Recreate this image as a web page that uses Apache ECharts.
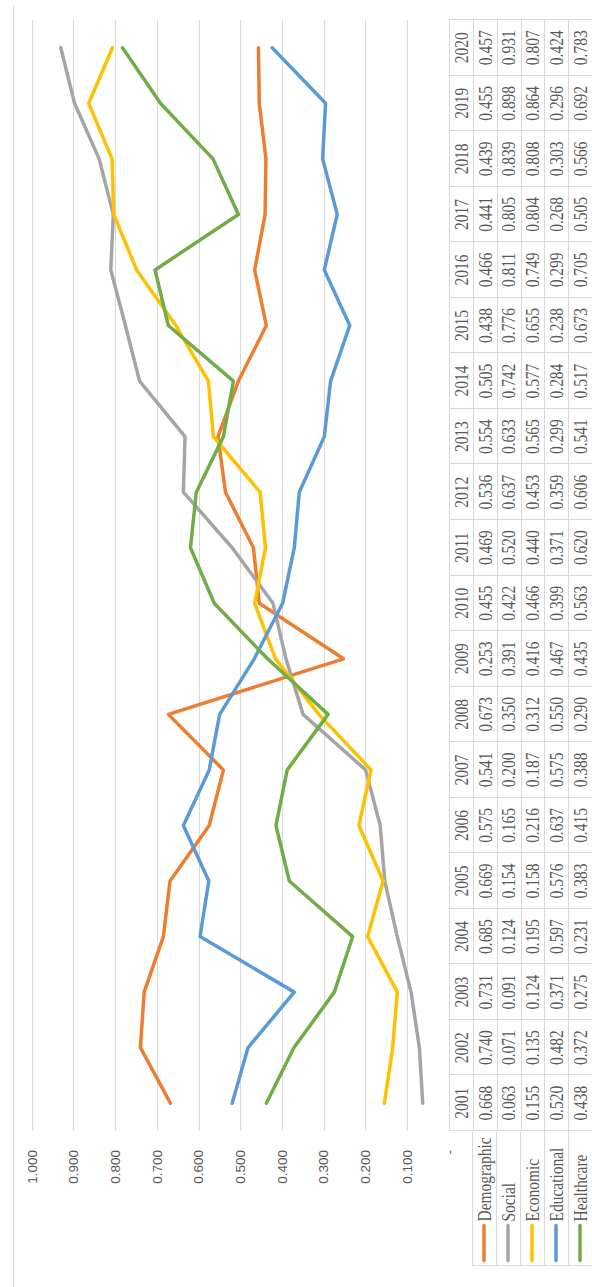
<!DOCTYPE html>
<html>
<head>
<meta charset="utf-8">
<script src="https://cdn.jsdelivr.net/npm/echarts@6/dist/echarts.min.js"></script>
<style>
html, body { margin: 0; padding: 0; width: 592px; height: 1287px; overflow: hidden; background: #fff; }
#chart { position: absolute; left: 0; top: 0; width: 1287px; height: 592px;
  transform-origin: 0 0; transform: translateY(1287px) rotate(-90deg); }
</style>
</head>
<body>
<div id="chart"></div>
<script>
// ---- data ----
const years = ['2001','2002','2003','2004','2005','2006','2007','2008','2009','2010',
               '2011','2012','2013','2014','2015','2016','2017','2018','2019','2020'];
const seriesNames = ['Demographic','Social','Economic','Educational','Healthcare'];
const demographic = [0.668,0.740,0.731,0.685,0.669,0.575,0.541,0.673,0.253,0.455,
                     0.469,0.536,0.554,0.505,0.438,0.466,0.441,0.439,0.455,0.457];
const social      = [0.063,0.071,0.091,0.124,0.154,0.165,0.200,0.350,0.391,0.422,
                     0.520,0.637,0.633,0.742,0.776,0.811,0.805,0.839,0.898,0.931];
const economic    = [0.155,0.135,0.124,0.195,0.158,0.216,0.187,0.312,0.416,0.466,
                     0.440,0.453,0.565,0.577,0.655,0.749,0.804,0.808,0.864,0.807];
const educational = [0.520,0.482,0.371,0.597,0.576,0.637,0.575,0.550,0.467,0.399,
                     0.371,0.359,0.299,0.284,0.238,0.299,0.268,0.303,0.296,0.424];
const healthcare  = [0.438,0.372,0.275,0.231,0.383,0.415,0.388,0.290,0.435,0.563,
                     0.620,0.606,0.541,0.517,0.673,0.705,0.505,0.566,0.692,0.783];
const valueMin = 0, valueMax = 1, valueStep = 0.1;

// ---- styles ----
const allSeries = [demographic, social, economic, educational, healthcare];
const colors = ['#ED7D31', '#A5A5A5', '#FFC000', '#5B9BD5', '#70AD47'];
const gridColor = '#D9D9D9';
const textColor = '#595959';
const tableFont = 'Liberation Serif';
const tableFontSize = 18;
const tableScaleX = 0.86;

// table rows: year header + each series
const tableRows = ['Year'].concat(seriesNames);
const tableData = [];
const tableTexts = [];
tableRows.forEach(function (row, r) {
  years.forEach(function (y, c) {
    tableData.push([c, r]);
    tableTexts.push(r === 0 ? y : allSeries[r - 1][c].toFixed(3));
  });
});
const headerData = seriesNames.map(function (n, r) { return [0, r]; });

function crisp(v) { return Math.round(v) + 0.5; }

function tableCell(params, api) {
  const c = api.value(0), r = api.value(1);
  const p = api.coord([c, r]);
  const s = api.size([1, 1]);
  const x0 = crisp(p[0] - s[0] / 2), y0 = crisp(p[1] - s[1] / 2);
  const x1 = crisp(p[0] + s[0] / 2), y1 = crisp(p[1] + s[1] / 2);
  return {
    type: 'group',
    children: [
      { type: 'rect', shape: { x: x0, y: y0, width: x1 - x0, height: y1 - y0 },
        style: { fill: 'none', stroke: gridColor, lineWidth: 1 } },
      { type: 'text', x: p[0], y: p[1] + 1, scaleX: tableScaleX,
        style: { text: tableTexts[params.dataIndex], fill: textColor,
                 fontFamily: tableFont, fontSize: tableFontSize,
                 align: 'center', verticalAlign: 'middle' } }
    ]
  };
}

function headerCell(params, api) {
  const r = api.value(1);
  const p = api.coord([0, r]);
  const s = api.size([1, 1]);
  const x0 = crisp(p[0] - s[0] / 2), y0 = crisp(p[1] - s[1] / 2);
  const x1 = crisp(p[0] + s[0] / 2), y1 = crisp(p[1] + s[1] / 2);
  return {
    type: 'group',
    children: [
      { type: 'rect', shape: { x: x0, y: y0, width: x1 - x0, height: y1 - y0 },
        style: { fill: 'none', stroke: gridColor, lineWidth: 1 } },
      { type: 'line', shape: { x1: x0 + 5, y1: p[1], x2: x0 + 40, y2: p[1] },
        style: { stroke: colors[r], lineWidth: 3.5, lineCap: 'round' } },
      { type: 'text', x: x0 + 44, y: p[1] + 1, scaleX: tableScaleX,
        style: { text: seriesNames[r], fill: textColor,
                 fontFamily: tableFont, fontSize: tableFontSize,
                 align: 'left', verticalAlign: 'middle' } }
    ]
  };
}

const chart = echarts.init(document.getElementById('chart'), null, { renderer: 'svg' });

const lineSeries = seriesNames.map(function (name, i) {
  return {
    name: name, type: 'line', xAxisIndex: 0, yAxisIndex: 0,
    data: allSeries[i], showSymbol: false, symbol: 'none', smooth: false,
    lineStyle: { color: colors[i], width: 3.5, cap: 'round', join: 'round' },
    itemStyle: { color: colors[i] }, animation: false
  };
});

chart.setOption({
  animation: false,
  backgroundColor: '#ffffff',
  grid: [
    { left: 156, top: 32, width: 1111, height: 417 },
    { left: 156, top: 449, width: 1111, height: 143 },
    { left: 21, top: 472, width: 135, height: 120 }
  ],
  xAxis: [
    { type: 'category', gridIndex: 0, data: years, boundaryGap: true,
      axisLine: { show: false }, axisTick: { show: false }, axisLabel: { show: false } },
    { type: 'category', gridIndex: 1, data: years, show: false },
    { type: 'category', gridIndex: 2, data: [''], show: false }
  ],
  yAxis: [
    { type: 'value', gridIndex: 0, min: valueMin, max: valueMax, interval: valueStep,
      axisLine: { show: false }, axisTick: { show: false },
      splitLine: { show: true, lineStyle: { color: gridColor, width: 1 } },
      axisLabel: { margin: 19, color: textColor, fontFamily: 'Liberation Sans', fontSize: 13.5,
        formatter: function (v) { return Math.abs(v) < 1e-9 ? '-' : v.toFixed(3); } } },
    { type: 'category', gridIndex: 1, data: tableRows, inverse: true, show: false },
    { type: 'category', gridIndex: 2, data: seriesNames, inverse: true, show: false }
  ],
  graphic: [
    { type: 'line', shape: { x1: 0, y1: 13.5, x2: 1282, y2: 13.5 },
      style: { stroke: gridColor, lineWidth: 1 } }
  ],
  series: lineSeries.concat([
    { type: 'custom', name: 'table', xAxisIndex: 1, yAxisIndex: 1,
      data: tableData, renderItem: tableCell, clip: false, silent: true },
    { type: 'custom', name: 'tableHeader', xAxisIndex: 2, yAxisIndex: 2,
      data: headerData, renderItem: headerCell, clip: false, silent: true }
  ])
});
</script>
</body>
</html>
